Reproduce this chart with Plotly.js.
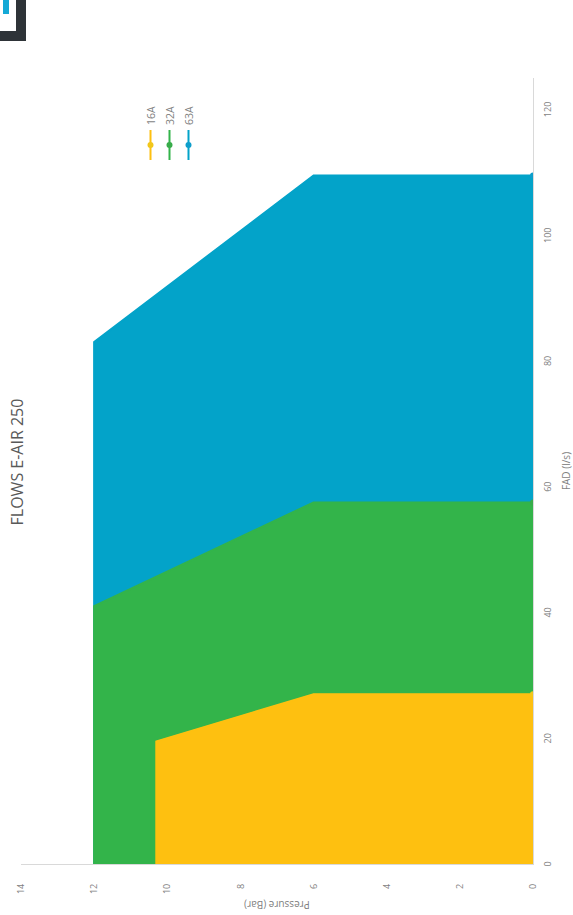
<!DOCTYPE html>
<html><head><meta charset="utf-8">
<script src="https://cdn.plot.ly/plotly-3.0.1.min.js"></script>
<style>
html,body{margin:0;padding:0;background:#fff;overflow:hidden;width:573px;height:915px}
#wrap{position:absolute;left:0;top:0;width:915px;height:573px;transform-origin:0 0;transform:translate(0,915px) rotate(-90deg);}
</style></head><body><div id="wrap"><div id="chart"></div></div>
<script>
// Data (FAD in l/s, Pressure in Bar)
const seriesNames = ['16A', '32A', '63A'];
const fad16 = [0, 19.5, 27, 27];
const bar16 = [10.3, 10.3, 6, 0];
const fad32 = [0, 41, 57.5, 57.5];
const bar32 = [12, 12, 6, 0];
const fad63 = [0, 83, 109.5, 109.5];
const bar63 = [12, 12, 6, 0];
const pressureTicks = [0, 2, 4, 6, 8, 10, 12, 14];
const fadTicks = [0, 20, 40, 60, 80, 100, 120];

const fillColors = ['#FEC010', '#33B44A', '#03A3C9'];
const markerColors = ['#F2C71A', '#38AC4A', '#0E9ECB'];

const W = 915, H = 573;
const M = {l: 51, r: 78, t: 21, b: 40};
const pw = W - M.l - M.r, ph = H - M.t - M.b;
const px = v => (v - M.l) / pw;
const py = v => 1 - (v - M.t) / ph;

const xs = [fad63, fad32, fad16];
const ys = [bar63, bar32, bar16];
const order = [2, 1, 0];
const traces = [];
// fills: 63A bottom, 32A, 16A on top
for (let k = 0; k < 3; k++) {
  const i = order[k];
  traces.push({
    x: xs[k], y: ys[k], type: 'scatter', mode: 'lines',
    fill: 'tozeroy', fillcolor: fillColors[i],
    line: {color: fillColors[i], width: 0.5},
    showlegend: false, hoverinfo: 'skip'
  });
  traces.push({
    x: xs[k], y: ys[k], type: 'scatter', mode: 'lines+markers',
    name: seriesNames[i], legendrank: i + 1,
    line: {color: fillColors[i], width: 2},
    marker: {color: markerColors[i], size: 6},
    selectedpoints: [xs[k].length - 1],
    selected: {marker: {opacity: 1}},
    unselected: {marker: {opacity: 0}},
    showlegend: true
  });
}

const layout = {
  width: W, height: H,
  margin: M,
  paper_bgcolor: '#ffffff', plot_bgcolor: '#ffffff',
  font: {family: 'Open Sans, sans-serif', color: '#7f7f7f'},
  title: {text: 'FLOWS E-AIR 250', font: {size: 16, color: '#595959'},
          x: 453 / W, xref: 'container', xanchor: 'center',
          y: 1 - 17 / H, yref: 'container', yanchor: 'middle'},
  xaxis: {range: [0, 125], tickvals: fadTicks, ticktext: fadTicks.map(String),
          showgrid: false, zeroline: false, showline: true, linecolor: '#d9d9d9', linewidth: 1,
          ticks: '', ticklabelstandoff: 6, tickfont: {size: 9, color: '#7f7f7f'},
          title: {text: 'FAD (l/s)', font: {size: 10, color: '#7f7f7f'}, standoff: 10},
          fixedrange: true, automargin: false},
  yaxis: {range: [0, 14], tickvals: pressureTicks, ticktext: pressureTicks.map(String),
          showgrid: false, zeroline: false, showline: true, linecolor: '#d9d9d9', linewidth: 1,
          ticks: '', ticklabelstandoff: 17, tickfont: {size: 9, color: '#7f7f7f'},
          title: {text: 'Pressure (Bar)', font: {size: 10, color: '#7f7f7f'}, standoff: 4},
          fixedrange: true, automargin: false},
  legend: {x: px(750), y: py(136), xanchor: 'left', yanchor: 'top',
           font: {size: 10.5, color: '#7f7f7f'}, bgcolor: 'rgba(0,0,0,0)', tracegroupgap: 0},
  shapes: [
    {type: 'rect', xref: 'paper', yref: 'paper', x0: px(874), x1: px(920), y0: py(26), y1: py(-5),
     fillcolor: '#2e3338', line: {width: 0}, layer: 'above'},
    {type: 'rect', xref: 'paper', yref: 'paper', x0: px(884), x1: px(920), y0: py(16), y1: py(-5),
     fillcolor: '#ffffff', line: {width: 0}, layer: 'above'},
    {type: 'rect', xref: 'paper', yref: 'paper', x0: px(901), x1: px(920), y0: py(9), y1: py(3),
     fillcolor: '#14a9d6', line: {width: 0}, layer: 'above'}
  ],
  showlegend: true
};

Plotly.newPlot('chart', traces, layout, {displayModeBar: false, staticPlot: true});
</script></body></html>
